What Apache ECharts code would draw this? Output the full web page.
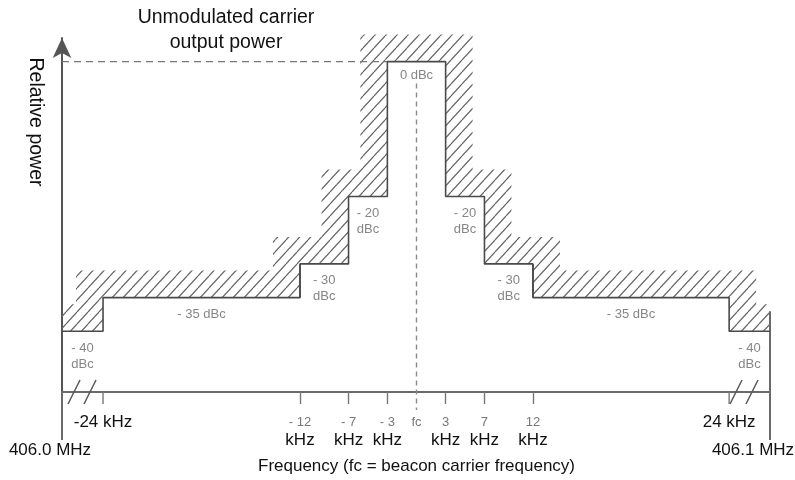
<!DOCTYPE html>
<html>
<head>
<meta charset="utf-8">
<script src="https://cdn.jsdelivr.net/npm/echarts@6.0.0/dist/echarts.min.js"></script>
<style>
html, body { margin: 0; background: #fff; }
#chart { width: 795px; height: 480px; }
</style>
</head>
<body>
<div id="chart"></div>
<script>
// mask bands, kHz from fc (schematic; outer edge stands for the axis break)
const edgeKHz = 26.5
const bandFrom = [-edgeKHz, -24, -12, -7, -3, 3, 7, 12, 24]
const bandTo = [-24, -12, -7, -3, 3, 7, 12, 24, edgeKHz]
const bandLevel = [-40, -35, -30, -20, 0, -20, -30, -35, -40]
const bandText = ['- 40\ndBc', '- 35 dBc', '- 30\ndBc', '- 20\ndBc', '0 dBc', '- 20\ndBc', '- 30\ndBc', '- 35 dBc', '- 40\ndBc']

// x ticks
const tickKHz = [-24, -12, -7, -3, 0, 3, 7, 12, 24]
const tickTop = ['-24 kHz', '- 12', '- 7', '- 3', 'fc', '3', '7', '12', '24 kHz']
const tickUnit = ['', 'kHz', 'kHz', 'kHz', '', 'kHz', 'kHz', 'kHz', '']
const edgeText = ['406.0 MHz', '406.1 MHz']

// the drawing is not to scale: three linear pieces
const spans = [[-edgeKHz, -12], [-12, 12], [12, edgeKHz]]
const yMin = -49
const yMax = 3.5

const boxes = [{ left: 62, width: 238 }, { left: 300, width: 233 }, { left: 533, width: 237 }]
const axisColor = '#6a6a6a'
const font = 'Liberation Sans'
const hatchGap = 27

// hatch pattern
const tile = document.createElement('canvas')
tile.width = 11
tile.height = 12
const tg = tile.getContext('2d')
tg.strokeStyle = '#666'
tg.lineWidth = 1.2
tg.beginPath()
for (const k of [-1, 0, 1]) {
    tg.moveTo(k * 11, 12)
    tg.lineTo(k * 11 + 11, 0)
}
tg.stroke()
const hatchFill = { image: tile, repeat: 'repeat' }

const gridOf = i => (bandTo[i] <= -12 ? 0 : bandFrom[i] >= 12 ? 2 : 1)
const bandsIn = g => bandLevel.map((_, i) => i).filter(i => gridOf(i) === g)
const ticksIn = g => tickKHz.filter(v => v >= spans[g][0] && v <= spans[g][1] &&
    !(g === 0 && v === -12) && !(g === 2 && v === 12))

// mask outline per piece
function maskData(g) {
    const idx = bandsIn(g)
    const pts = []
    const first = idx[0]
    const last = idx[idx.length - 1]
    if (first > 0) pts.push([bandFrom[first], bandLevel[first - 1]])
    idx.forEach(i => {
        pts.push([bandFrom[i], bandLevel[i]])
        pts.push([bandTo[i], bandLevel[i]])
    })
    if (last < bandLevel.length - 1) pts.push([bandTo[last], bandLevel[last + 1]])
    return pts
}

// hatched band outside the mask
function hatchItem(params, api) {
    const i = api.value(0)
    const d = hatchGap
    const L = bandLevel[i]
    const a = api.coord([bandFrom[i], L])
    const b = api.coord([bandTo[i], L])
    let pts
    if (bandTo[i] <= -3) {
        const n = api.coord([bandTo[i], bandLevel[i + 1]])
        pts = [a, b, n, [n[0] - d, n[1] - d], [b[0] - d, b[1] - d],
            i === 0 ? [a[0], a[1] - d] : [a[0] - d, a[1] - d]]
    } else if (bandFrom[i] >= 3) {
        const p = api.coord([bandFrom[i], bandLevel[i - 1]])
        pts = [p, a, b, i === bandLevel.length - 1 ? [b[0], b[1] - d] : [b[0] + d, b[1] - d],
            [a[0] + d, a[1] - d], [p[0] + d, p[1] - d]]
    } else {
        pts = [a, b, [b[0] + d, b[1] - d], [a[0] - d, a[1] - d]]
    }
    return { type: 'polygon', shape: { points: pts }, style: { fill: hatchFill, stroke: null } }
}

const slashStyle = { stroke: '#5a5a5a', lineWidth: 1.6 }
const slash = (x, y) => ({ type: 'line', shape: { x1: x - 6, y1: y + 12, x2: x + 6, y2: y - 12 }, style: slashStyle })
const tickMark = p => ({ type: 'line', shape: { x1: p[0], y1: p[1], x2: p[0], y2: p[1] + 12 }, style: { stroke: '#777', lineWidth: 1.4 } })
const edgeLabel = (s, x, y) => ({
    type: 'text',
    x, y,
    style: { text: s, align: 'center', verticalAlign: 'middle', fontSize: 17, fontFamily: font, fill: '#111' }
})

// edges, axis breaks, outer ticks and the fc line
function decoItem(g) {
    return (params, api) => {
        const kids = []
        if (g === 0) {
            const p = api.coord([-edgeKHz, yMin])
            kids.push({ type: 'line', shape: { x1: p[0], y1: p[1], x2: p[0], y2: p[1] + 48 }, style: { stroke: axisColor, lineWidth: 2 } })
            kids.push(slash(p[0] + 12, p[1]), slash(p[0] + 28, p[1]))
            ticksIn(0).forEach(v => kids.push(tickMark(api.coord([v, yMin]))))
            kids.push(edgeLabel(edgeText[0], p[0] - 12, p[1] + 58))
        } else if (g === 1) {
            const top = api.coord([0, 0])
            const bot = api.coord([0, yMin])
            kids.push({ type: 'line', shape: { x1: top[0], y1: top[1] + 22, x2: bot[0], y2: bot[1] + 18 },
                style: { stroke: '#8a8a8a', lineWidth: 1.4, lineDash: [5, 4] } })
        } else {
            const t = api.coord([edgeKHz, bandLevel[bandLevel.length - 1]])
            const p = api.coord([edgeKHz, yMin])
            kids.push({ type: 'line', shape: { x1: p[0], y1: t[1] - 20, x2: p[0], y2: p[1] + 48 }, style: { stroke: axisColor, lineWidth: 2 } })
            kids.push(slash(p[0] - 34, p[1]), slash(p[0] - 18, p[1]))
            ticksIn(2).forEach(v => kids.push(tickMark(api.coord([v, yMin]))))
            kids.push(edgeLabel(edgeText[1], p[0] - 17, p[1] + 58))
        }
        return { type: 'group', children: kids }
    }
}

function labelFor(v) {
    const k = tickKHz.indexOf(v)
    if (k < 0) return ''
    if (!tickUnit[k]) return tickTop[k].indexOf('kHz') >= 0 ? '{u|' + tickTop[k] + '}' : '{n|' + tickTop[k] + '}'
    return '{n|' + tickTop[k] + '}\n{u|' + tickUnit[k] + '}'
}

const xAxis = spans.map((s, g) => ({
    type: 'value',
    gridIndex: g,
    min: s[0],
    max: s[1],
    axisLine: { onZero: false, lineStyle: { color: axisColor, width: 2 } },
    splitLine: { show: false },
    axisTick: {
        show: g === 1,
        length: 12,
        lineStyle: { color: '#777', width: 1.4 },
        customValues: ticksIn(g).filter(v => v !== 0)
    },
    axisLabel: {
        margin: 21,
        showMinLabel: true,
        showMaxLabel: true,
        formatter: labelFor,
        customValues: ticksIn(g),
        rich: {
            n: { fontSize: 13, color: '#777', lineHeight: 18, fontFamily: font },
            u: { fontSize: 17, color: '#111', lineHeight: 18, fontFamily: font }
        }
    },
    name: g === 1 ? 'Frequency (fc = beacon carrier frequency)' : '',
    nameLocation: 'middle',
    nameGap: 66,
    nameTextStyle: { fontSize: 17, color: '#111', fontFamily: font }
}))

const yAxis = spans.map((s, g) => ({
    type: 'value',
    gridIndex: g,
    min: yMin,
    max: yMax,
    axisLine: {
        show: g === 0,
        onZero: false,
        symbol: ['none', 'arrow'],
        symbolSize: [14, 20],
        lineStyle: { color: '#555', width: 2 }
    },
    axisTick: { show: false },
    axisLabel: { show: false },
    splitLine: { show: false }
}))

const series = []
spans.forEach((s, g) => {
    series.push({
        type: 'custom',
        xAxisIndex: g,
        yAxisIndex: g,
        z: 1,
        silent: true,
        renderItem: hatchItem,
        data: bandsIn(g).map(i => [i])
    })
    series.push({
        type: 'line',
        xAxisIndex: g,
        yAxisIndex: g,
        z: 3,
        silent: true,
        symbol: 'none',
        clip: false,
        lineStyle: { color: '#4a4a4a', width: 1.6 },
        data: maskData(g)
    })
    series.push({
        type: 'custom',
        xAxisIndex: g,
        yAxisIndex: g,
        z: 2,
        silent: true,
        renderItem: decoItem(g),
        data: [[0]]
    })
    series.push({
        type: 'scatter',
        xAxisIndex: g,
        yAxisIndex: g,
        z: 4,
        silent: true,
        symbolSize: 0,
        label: {
            show: true,
            position: 'bottom',
            distance: 9,
            formatter: '{b}',
            color: '#666',
            fontSize: 13,
            lineHeight: 16,
            fontFamily: font
        },
        data: bandsIn(g).map(i => ({
            name: bandText[i],
            value: [(bandFrom[i] + bandTo[i]) / 2, bandLevel[i]],
            label: { distance: bandLevel[i] === 0 ? 6 : 9 }
        }))
    })
})

// 0 dBc reference, dashed from the axis to the carrier block
const peak = bandLevel.indexOf(0)
series.push({
    type: 'line', xAxisIndex: 0, yAxisIndex: 0, z: 2, symbol: 'none', silent: true,
    lineStyle: { color: '#777', width: 1.4, type: [7, 5] },
    data: [[-edgeKHz, 0], [-12, 0]]
})
series.push({
    type: 'line', xAxisIndex: 1, yAxisIndex: 1, z: 2, symbol: 'none', silent: true,
    lineStyle: { color: '#777', width: 1.4, type: [7, 5] },
    data: [[-12, 0], [bandFrom[peak], 0]]
})

const chart = echarts.init(document.getElementById('chart'))
chart.setOption({
    backgroundColor: '#fff',
    animation: false,
    grid: boxes.map(b => ({ left: b.left, width: b.width, top: 38, height: 354, outerBoundsMode: 'none', containLabel: false })),
    xAxis,
    yAxis,
    series,
    graphic: [
        {
            type: 'text',
            x: 226,
            y: 5,
            style: {
                text: 'Unmodulated carrier\noutput power',
                align: 'center',
                verticalAlign: 'top',
                fontSize: 19.5,
                lineHeight: 25,
                fontFamily: font,
                fill: '#111'
            }
        },
        {
            type: 'text',
            x: 35,
            y: 122,
            rotation: -Math.PI / 2,
            style: {
                text: 'Relative power',
                align: 'center',
                verticalAlign: 'middle',
                fontSize: 19.5,
                fontFamily: font,
                fill: '#111'
            }
        }
    ]
})

window.addEventListener('resize', () => chart.resize())
</script>
</body>
</html>
